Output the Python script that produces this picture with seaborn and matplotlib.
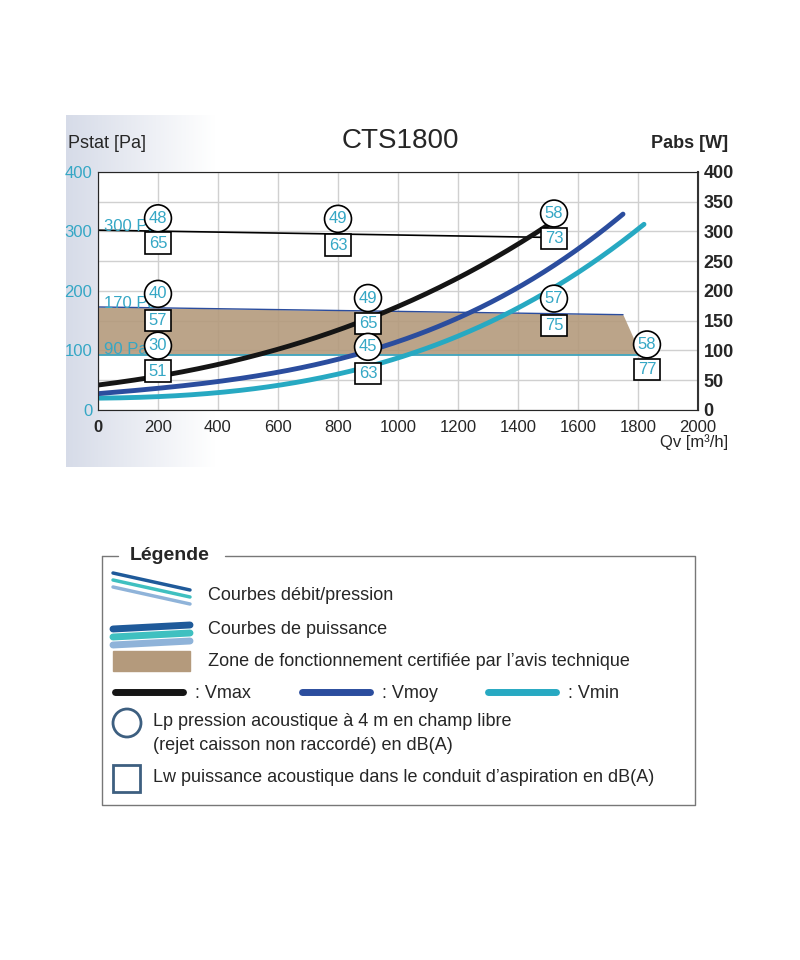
import numpy as np
import matplotlib.pyplot as plt
import seaborn as sns
import pandas as pd
from matplotlib import font_manager

sns.set_style("white")
names = {f.name for f in font_manager.fontManager.ttflist}
narrow = 'Liberation Sans Narrow' if 'Liberation Sans Narrow' in names else 'Liberation Sans'
plt.rcParams['font.family'] = [narrow, 'DejaVu Sans']

# --- données ---
qv_max = [0, 200, 400, 600, 800, 1000, 1200, 1400, 1510]
p_max = [42, 58, 72, 103, 139, 172, 219, 280, 314]
qv_moy = [0, 200, 400, 600, 800, 1000, 1200, 1400, 1600, 1750]
p_moy = [27, 37, 47, 64, 85, 115, 153, 206, 272, 328]
qv_min = [0, 200, 400, 600, 800, 1000, 1200, 1400, 1600, 1820]
p_min = [18, 24, 31, 42, 58, 86, 122, 172, 236, 309]

qv_300 = [0, 1480]
p_300 = [302, 290]
zone_qv = [0, 1750, 1810]
zone_top = [173, 160, 92]
zone_bas = 92
qv_90 = [0, 1820]

# niveaux acoustiques: Qv, Pa du cercle, Lp, Pa du carré, Lw
lp_qv = [200, 800, 1520, 200, 900, 1520, 200, 900, 1830]
lp_y = [322, 321, 330, 195, 188, 187, 108, 106, 110]
lp_val = [48, 49, 58, 40, 49, 57, 30, 45, 58]
lw_y = [280, 277, 288, 150, 145, 142, 65, 61, 68]
lw_val = [65, 63, 73, 57, 65, 75, 51, 63, 77]

teal = '#35a7c5'
c_max, c_moy, c_min = '#151515', '#2b4d9e', '#27a9c2'
tan = '#b49a7c'

fig = plt.figure(figsize=(8, 9.6), dpi=100)

# fond + légende en coordonnées pixels
bg = fig.add_axes([0, 0, 1, 1])
bg.set_xlim(0, 800)
bg.set_ylim(960, 0)
bg.axis('off')
grad = np.linspace(0.0, 1.0, 200)[None, :]
rgb = np.dstack([0.84 + 0.16 * grad, 0.86 + 0.14 * grad, 0.91 + 0.09 * grad])
bg.imshow(rgb, extent=[66, 215, 467, 115], aspect='auto', zorder=0)

bg.plot([102, 118], [556, 556], color='#777', lw=1)
bg.plot([225, 695, 695, 102, 102], [556, 556, 805, 805, 556], color='#777', lw=1)
bg.text(130, 556, 'Légende', fontsize=14, fontweight='bold', va='center')
for dy, c in [(0, '#1f5a9a'), (7, '#3fc0c0'), (14, '#8fb3d9')]:
    bg.plot([113, 190], [573 + dy, 590 + dy], color=c, lw=2.5)
for dy, c in [(0, '#1f5a9a'), (8, '#3fc0c0'), (16, '#8fb3d9')]:
    bg.plot([113, 190], [629 + dy, 625 + dy], color=c, lw=5)
bg.add_patch(plt.Rectangle((113, 651), 77, 20, color=tan))
bg.text(208, 596, 'Courbes débit/pression', fontsize=13, va='center')
bg.text(208, 630, 'Courbes de puissance', fontsize=13, va='center')
bg.text(208, 661, 'Zone de fonctionnement certifiée par l’avis technique', fontsize=13, va='center')
for x0, c, lab in [(115, c_max, ': Vmax'), (302, c_moy, ': Vmoy'), (488, c_min, ': Vmin')]:
    bg.plot([x0, x0 + 68], [692, 692], color=c, lw=5)
    bg.text(x0 + 80, 693, lab, fontsize=13, va='center')
bg.add_patch(plt.Circle((127, 723), 14, fill=False, ec='#3d5f80', lw=2))
bg.text(153, 722, 'Lp pression acoustique à 4 m en champ libre', fontsize=13, va='center')
bg.text(153, 746, '(rejet caisson non raccordé) en dB(A)', fontsize=13, va='center')
bg.add_patch(plt.Rectangle((113, 765), 27, 27, fill=False, ec='#3d5f80', lw=2))
bg.text(153, 778, 'Lw puissance acoustique dans le conduit d’aspiration en dB(A)', fontsize=13, va='center')

# graphique principal
ax = fig.add_axes([0.1225, 0.573, 0.75, 0.248])
ax.set_facecolor('white')
ax.fill_between(zone_qv, zone_top, zone_bas, color=tan, alpha=0.9, lw=0, zorder=1)
ax.plot(zone_qv[:2], zone_top[:2], color=c_moy, lw=1, zorder=2)
ax.plot(qv_90, [zone_bas, zone_bas], color=teal, lw=1.2, zorder=2)
ax.plot(qv_300, p_300, color='black', lw=1.2, zorder=2)

curves = pd.DataFrame({
    'qv': qv_max + qv_moy + qv_min,
    'p': p_max + p_moy + p_min,
    'v': ['Vmax'] * len(qv_max) + ['Vmoy'] * len(qv_moy) + ['Vmin'] * len(qv_min),
})
for v, c in [('Vmin', c_min), ('Vmoy', c_moy), ('Vmax', c_max)]:
    d = curves[curves.v == v]
    # lissage des points relevés
    coef = np.polyfit(d.qv, d.p, 3)
    xs = np.linspace(d.qv.min(), d.qv.max(), 200)
    sns.lineplot(x=xs, y=np.polyval(coef, xs), color=c, lw=3.5, zorder=3, ax=ax)

for x, yc, lp, ys, lw in zip(lp_qv, lp_y, lp_val, lw_y, lw_val):
    ax.text(x, yc, str(lp), color=teal, fontsize=12, ha='center', va='center', zorder=5,
            bbox=dict(boxstyle='circle,pad=0.25', fc='white', ec='black', lw=1.2))
    ax.text(x, ys, str(lw), color=teal, fontsize=12, ha='center', va='center', zorder=5,
            bbox=dict(boxstyle='square,pad=0.2', fc='white', ec='black', lw=1.2))

ax.text(20, 308, '300 Pa', color=teal, fontsize=12, va='center')
ax.text(20, 179, '170 Pa', color=teal, fontsize=12, va='center')
ax.text(20, 101, '90 Pa', color=teal, fontsize=12, va='center')

ax.set_xlim(0, 2000)
ax.set_ylim(0, 400)
ax.set_xticks(range(0, 2001, 200))
ax.set_yticks(range(0, 401, 50))
ax.grid(True, color='#d0d0d0', lw=1)
for s in ax.spines.values():
    s.set_color('#888')
ax.tick_params(axis='x', labelsize=12, length=0, pad=7)
ax.set_xticklabels(['0'] + [str(v) for v in range(200, 2001, 200)])
ax.get_xticklabels()[0].set_fontweight('bold')
ax.set_yticklabels([str(v) if v % 100 == 0 else '' for v in range(0, 401, 50)], color=teal)
ax.tick_params(axis='y', labelsize=12, length=0, pad=4)

ax2 = ax.twinx()
ax2.set_ylim(0, 400)
ax2.set_yticks(range(0, 401, 50))
ax2.tick_params(axis='y', labelsize=13, length=0, pad=4)
for t in ax2.get_yticklabels():
    t.set_fontweight('bold')
ax2.spines['right'].set_color('#333')
ax2.spines['right'].set_linewidth(1.5)

fig.text(0.085, 0.851, 'Pstat [Pa]', fontsize=13, va='center')
fig.text(0.5, 0.853, 'CTS1800', fontsize=20, ha='center', va='center')
fig.text(0.91, 0.851, 'Pabs [W]', fontsize=13, fontweight='bold', ha='right', va='center')
fig.text(0.91, 0.540, 'Qv [m³/h]', fontsize=12, ha='right', va='center')

fig.savefig('out.png', dpi=100)
